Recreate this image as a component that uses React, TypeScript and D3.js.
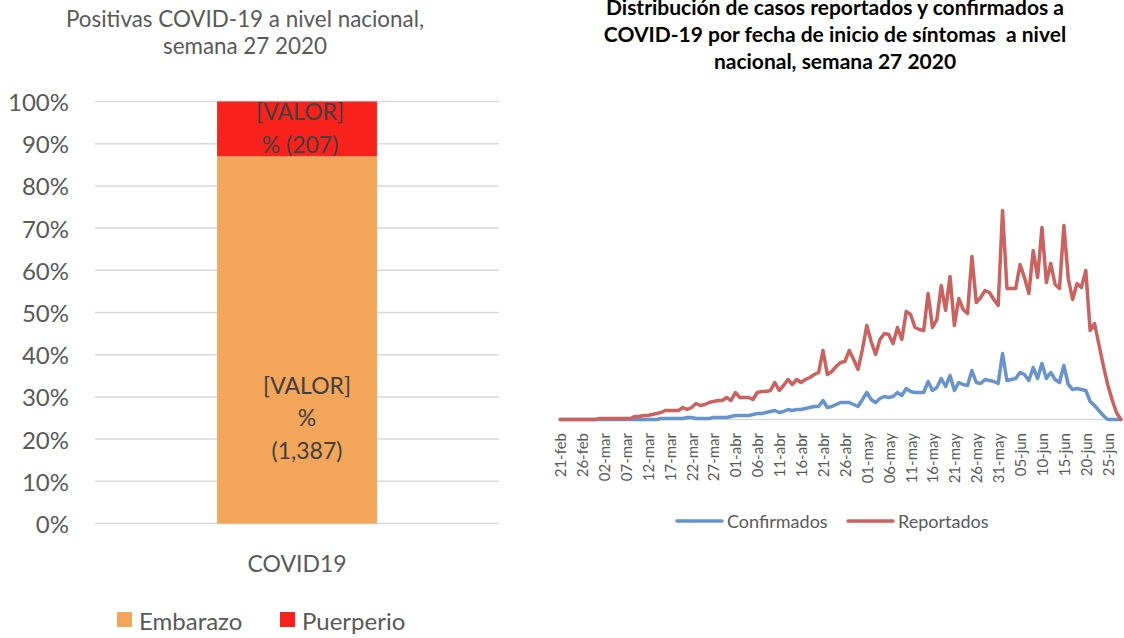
import React from "react";
import * as d3 from "d3";

const FONT = "Lato, 'Open Sans', sans-serif";
const W = 1124;
const H = 638;

// --- grafica izquierda: positivas COVID-19
const barCategories = ["COVID19"];
const barKeys = ["Embarazo", "Puerperio"];
const embarazo = [1387];
const puerperio = [207];
const barColors = ["#F3A65A", "#F9211C"];
const pctTicks = [0, 0.1, 0.2, 0.3, 0.4, 0.5, 0.6, 0.7, 0.8, 0.9, 1];

// --- grafica derecha: casos por fecha de inicio de sintomas (21-feb a 28-jun)
const firstDay = new Date(2020, 1, 21);
const lastDay = new Date(2020, 5, 29);
const shortMonths = ["ene", "feb", "mar", "abr", "may", "jun", "jul", "ago", "sep", "oct", "nov", "dic"];

const reportados = [
  0, 0, 0, 0, 0, 0, 0, 0, 0, 1, 1, 1, 1, 1, 1, 1, 1, 3, 3, 4,
  4, 5, 6, 7, 9, 9, 9, 9, 12, 10, 12, 16, 14, 15, 17, 18, 19, 19, 22, 19,
  27, 22, 22, 22, 20, 27, 28, 28, 29, 37, 29, 34, 40, 35, 40, 37, 40, 42, 45, 47,
  69, 45, 48, 53, 57, 58, 69, 60, 50, 70, 94, 78, 65, 80, 86, 85, 76, 92, 80, 108,
  105, 92, 90, 89, 126, 92, 100, 134, 109, 143, 94, 121, 110, 106, 163, 117, 122, 129, 127, 120,
  114, 209, 131, 131, 131, 155, 142, 126, 169, 142, 192, 137, 156, 135, 131, 194, 141, 120, 136, 132,
  149, 89, 96, 75, 54, 35, 20, 7, 0,
];

const confirmados = [
  0, 0, 0, 0, 0, 0, 0, 0, 0, 0, 0, 0, 0, 0, 0, 0, 0, 0, 0, 0,
  0, 0, 0, 1, 1, 1, 1, 1, 1, 2, 2, 1, 1, 1, 1, 2, 2, 2, 2, 3,
  4, 4, 4, 4, 5, 6, 6, 7, 8, 9, 7, 8, 10, 9, 10, 10, 11, 12, 13, 13,
  19, 12, 13, 15, 17, 17, 17, 15, 13, 20, 27, 20, 17, 21, 23, 22, 23, 27, 24, 31,
  28, 27, 27, 27, 38, 29, 32, 41, 33, 44, 29, 37, 35, 34, 49, 37, 36, 40, 39, 38,
  36, 66, 39, 40, 41, 47, 45, 39, 52, 41, 56, 41, 47, 40, 37, 54, 35, 30, 31, 30,
  29, 18, 14, 9, 4, 0, 0, 0, 0,
];

const dateTicks = [
  "21-feb", "26-feb", "02-mar", "07-mar", "12-mar", "17-mar", "22-mar", "27-mar",
  "01-abr", "06-abr", "11-abr", "16-abr", "21-abr", "26-abr", "01-may", "06-may",
  "11-may", "16-may", "21-may", "26-may", "31-may", "05-jun", "10-jun", "15-jun",
  "20-jun", "25-jun",
];

const lineSeries = [
  { name: "Confirmados", values: confirmados, color: "#6794CD" },
  { name: "Reportados", values: reportados, color: "#CC625F" },
];

const fmtDay = (d: Date) => `${d3.timeFormat("%d")(d)}-${shortMonths[d.getMonth()]}`;
const days = d3.timeDay.range(firstDay, lastDay).map(fmtDay);

function BarChart() {
  const rows = barCategories.map((c, i) => ({ cat: c, Embarazo: embarazo[i], Puerperio: puerperio[i] }));
  const stacked = d3.stack<any>().keys(barKeys).offset(d3.stackOffsetExpand)(rows);

  const y = d3.scaleLinear().domain([0, 1]).range([523.5, 101.5]);
  const x = d3.scaleBand().domain(barCategories).range([95, 499]).paddingInner(0.433).paddingOuter(0.433);
  const fmtPct = d3.format(".0%");
  const fmtN = d3.format(",");

  return (
    <g fontFamily={FONT}>
      <text x={245} y={18} textAnchor="middle" dominantBaseline="central" fontSize={22.4} fill="#595959">
        Positivas COVID-19 a nivel nacional,
      </text>
      <text x={245} y={45} textAnchor="middle" dominantBaseline="central" fontSize={22.4} fill="#595959">
        semana 27 2020
      </text>

      {pctTicks.map((t) => (
        <g key={t}>
          <line x1={95} x2={499} y1={y(t)} y2={y(t)} stroke="#D9D9D9" strokeWidth={1.5} />
          <text x={69} y={y(t)} textAnchor="end" dominantBaseline="central" fontSize={24} fill="#595959">
            {fmtPct(t)}
          </text>
        </g>
      ))}

      {stacked.map((s, k) =>
        s.map((d, i) => (
          <rect
            key={barKeys[k] + i}
            x={x(barCategories[i])}
            width={x.bandwidth()}
            y={y(d[1])}
            height={y(d[0]) - y(d[1])}
            fill={barColors[k]}
          />
        ))
      )}

      {/* etiquetas de datos tal cual salen en el original */}
      {barCategories.map((c, i) => {
        const cx = x(c)! + x.bandwidth() / 2;
        const top = stacked[1][i];
        const yTop = (y(top[0]) + y(top[1])) / 2;
        const yLow = y(stacked[0][i][1] * 0.29);
        return (
          <g key={c} fontSize={23} fill="#404040" textAnchor="middle" dominantBaseline="central">
            <text x={cx + 3} y={yTop - 18}>[VALOR]</text>
            <text x={cx + 3} y={yTop + 15}>% ({fmtN(puerperio[i])})</text>
            <text x={cx + 10} y={yLow - 32}>[VALOR]</text>
            <text x={cx + 10} y={yLow}>%</text>
            <text x={cx + 10} y={yLow + 33}>({fmtN(embarazo[i])})</text>
            <text x={cx} y={563} fontSize={23} fill="#595959">{c}</text>
          </g>
        );
      })}

      {barKeys.map((k, i) => {
        const lx = [117, 280][i];
        return (
          <g key={k}>
            <rect x={lx} y={612} width={15} height={15} fill={barColors[i]} />
            <text x={lx + 22} y={620} dominantBaseline="central" fontSize={24} fill="#595959">
              {k}
            </text>
          </g>
        );
      })}
    </g>
  );
}

function LineChart() {
  const x = d3.scaleBand().domain(days).range([558, 1123]);
  const cx = (d: string) => x(d)! + x.bandwidth() / 2;
  const y = d3.scaleLinear().domain([0, 240]).range([419.5, 179.5]);
  const line = d3
    .line<number>()
    .x((_, i) => cx(days[i]))
    .y((d) => y(d));

  const titleLines = [
    "Distribución de casos reportados y confirmados a",
    "COVID-19 por fecha de inicio de síntomas  a nivel",
    "nacional, semana 27 2020",
  ];

  return (
    <g fontFamily={FONT}>
      {titleLines.map((t, i) => (
        <text
          key={i}
          x={835}
          y={6 + i * 27}
          textAnchor="middle"
          dominantBaseline="central"
          fontSize={21}
          fontWeight="bold"
          fill="#000"
          style={{ whiteSpace: "pre" }}
        >
          {t}
        </text>
      ))}

      <line x1={558} x2={1123} y1={y(0)} y2={y(0)} stroke="#D9D9D9" strokeWidth={1.5} />

      {dateTicks.map((t) => (
        <text
          key={t}
          transform={`translate(${cx(t)},${433}) rotate(-90)`}
          textAnchor="end"
          dominantBaseline="central"
          fontSize={15}
          fill="#595959"
        >
          {t}
        </text>
      ))}

      {lineSeries.map((s) => (
        <path
          key={s.name}
          d={line(s.values)!}
          fill="none"
          stroke={s.color}
          strokeWidth={3.5}
          strokeLinejoin="round"
          strokeLinecap="round"
        />
      ))}

      {lineSeries.map((s, i) => {
        const lx = [677, 848][i];
        return (
          <g key={s.name}>
            <line x1={lx} x2={lx + 45} y1={521} y2={521} stroke={s.color} strokeWidth={3.5} strokeLinecap="round" />
            <text x={lx + 50} y={521} dominantBaseline="central" fontSize={18} fill="#595959">
              {s.name}
            </text>
          </g>
        );
      })}
    </g>
  );
}

export default function App() {
  return (
    <svg
      width={W}
      height={H}
      viewBox={`0 0 ${W} ${H}`}
      style={{ position: "absolute", left: 0, top: 0, background: "#fff" }}
    >
      <BarChart />
      <LineChart />
    </svg>
  );
}
